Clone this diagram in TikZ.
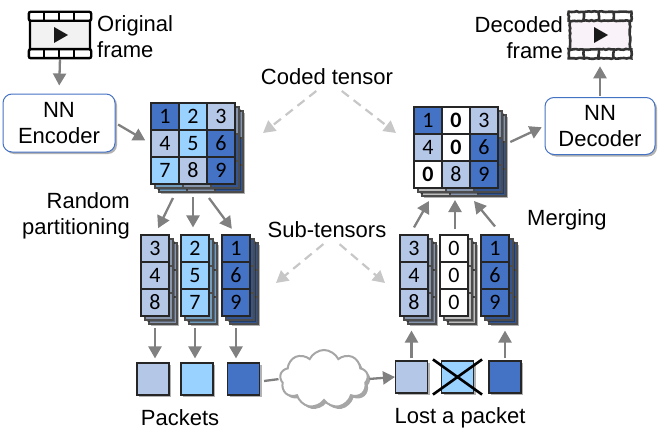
\documentclass[tikz,border=0pt]{standalone}
\usepackage{xcolor}
\usepackage{fontspec}
\setmainfont{Liberation Sans}
\newfontfamily\digitfont{Carlito}
\usetikzlibrary{positioning, shapes.symbols, arrows.meta, shadows, decorations.pathmorphing}

\definecolor{pktdark}{HTML}{4472C4}
\definecolor{pktlight}{HTML}{99D1FF}
\definecolor{pktpale}{HTML}{B4C7E7}

\tikzset{
  softshadow/.style={general shadow={shadow xshift=2pt, shadow yshift=-2pt, fill=black, opacity=0.3}},
  cellbox/.style={draw=black!85, line width=1.1pt, minimum width=28pt, minimum height=27pt, inner sep=0pt, font=\digitfont\fontsize{22}{22}\selectfont},
  label/.style={font=\fontsize{22}{26}\selectfont, inner sep=0pt},
  nnbox/.style={draw=pktdark, line width=1pt, rounded corners=9pt, fill=white, inner sep=0pt, align=center, softshadow, font=\fontsize{22}{26}\selectfont},
  pktbox/.style={draw=black!85, line width=1.1pt, minimum size=32pt, inner sep=0pt, softshadow},
  flow/.style={draw=black!50, line width=2.3pt, -{Triangle[width=13pt,length=12pt]}},
  hint/.style={draw=black!22, line width=2.2pt, dash pattern=on 9pt off 6pt, -{Triangle[width=13pt,length=12pt]}},
  filmclean/.style={draw=black, line width=2.4pt, rounded corners=2pt},
  filmrough/.style={draw=black!80, line width=2.6pt, decorate, decoration={random steps, segment length=2.5pt, amplitude=0.5pt}},
}

% one column of cells with two layers behind it
\newcommand{\tensorcol}[4]{
  \foreach \off in {8,4}
    \foreach \cellc/\cellt [count=\k] in {#4}
      \node[cellbox, draw=black!70, fill=\cellc!75!black, softshadow] at (#2+\off, #3+\k*27-27+\off) {};
  \foreach \cellc/\cellt [count=\k] in {#4}
    \node[cellbox, fill=\cellc] (#1\k) at (#2, #3+\k*27-27) {\cellt};
}

% film strip icon
\newcommand{\filmicon}[5]{
  \node[#4, fill=#5, minimum width=60pt, minimum height=44pt, inner sep=0pt] (#1) at (#2,#3) {};
  \draw[#4, fill=white] (#1.north west) rectangle ([yshift=-9pt]#1.north east);
  \draw[#4, fill=white] (#1.south west) rectangle ([yshift=9pt]#1.south east);
  \foreach \k in {15,30,45} {
    \draw[#4] ([xshift=\k pt]#1.north west) -- ([xshift=\k pt, yshift=-9pt]#1.north west);
    \draw[#4] ([xshift=\k pt]#1.south west) -- ([xshift=\k pt, yshift=9pt]#1.south west);
  }
  \fill[black!90] ([xshift=-6pt, yshift=8pt]#1.center) -- ([xshift=8pt]#1.center) -- ([xshift=-6pt, yshift=-8pt]#1.center) -- cycle;
}

\begin{document}
\begin{tikzpicture}[x=1pt, y=-1pt]
    \useasboundingbox (0,0) rectangle (664,444);

    % frames and networks
    \filmicon{orig}{60}{35}{filmclean}{black!5}
    \filmicon{deco}{600}{35}{filmrough}{violet!5}
    \node[label, align=left, anchor=west] (origtxt) at (97,37) {Original\\frame};
    \node[label, align=right, anchor=east] (decotxt) at (563,37.5) {Decoded\\frame};
    \node[nnbox, minimum width=112pt, minimum height=58pt] (enc) at (59,123) {NN\\Encoder};
    \node[nnbox, minimum width=110pt, minimum height=57pt] (dec) at (600,126) {NN\\Decoder};

    % coded tensor, sender side
    \tensorcol{ga}{165}{116.5}{pktdark/1, pktpale/4, pktlight/7}
    \tensorcol{gb}{193}{116.5}{pktlight/2, pktlight/5, pktpale/8}
    \tensorcol{gc}{221}{116.5}{pktpale/3, pktdark/6, pktdark/9}

    % coded tensor, receiver side
    \tensorcol{ha}{428}{120.5}{pktdark/1, pktpale/4, white/\textbf{0}}
    \tensorcol{hb}{456}{120.5}{white/\textbf{0}, white/\textbf{0}, pktpale/8}
    \tensorcol{hc}{484}{120.5}{pktpale/3, pktdark/6, pktdark/9}

    % sub-tensors
    \tensorcol{sa}{155}{248.5}{pktpale/3, pktpale/4, pktpale/8}
    \tensorcol{sb}{195}{248.5}{pktlight/2, pktlight/5, pktlight/7}
    \tensorcol{sc}{236}{248.5}{pktdark/1, pktdark/6, pktdark/9}
    \tensorcol{ra}{414}{248.5}{pktpale/3, pktpale/4, pktpale/8}
    \tensorcol{rb}{454}{248.5}{white/0, white/0, white/0}
    \tensorcol{rc}{495}{248.5}{pktdark/1, pktdark/6, pktdark/9}

    % packets and network
    \node[pktbox, fill=pktpale] (pa) at (153,379) {};
    \node[pktbox, fill=pktlight] (pb) at (197,379) {};
    \node[pktbox, fill=pktdark] (pc) at (243.5,379) {};
    \node[pktbox, fill=pktpale] (qa) at (411.5,377) {};
    \node[pktbox, fill=pktlight] (qb) at (457.5,377) {};
    \node[pktbox, fill=pktdark] (qc) at (505,377) {};
    \node[cloud, cloud puffs=9, cloud puff arc=130, aspect=1.5, draw=black!35, line width=2pt, fill=white, minimum width=88pt, minimum height=58pt, inner sep=0pt, general shadow={shadow xshift=2.5pt, shadow yshift=-2.5pt, fill=black, opacity=0.35}] (net) at (324,379) {};
    \draw[black, line width=2.6pt] ([xshift=-8pt, yshift=1pt]qb.north west) -- ([xshift=8pt, yshift=-1pt]qb.south east);
    \draw[black, line width=2.6pt] ([xshift=8pt, yshift=1pt]qb.north east) -- ([xshift=-8pt, yshift=-1pt]qb.south west);

    % labels
    \node[label] (coded) at (327,77) {Coded tensor};
    \node[label] (subs) at (327,230) {Sub-tensors};
    \node[label, align=right, anchor=east] (part) at (130,216) {Random\\partitioning};
    \node[label, anchor=west] (merge) at (527,220) {Merging};
    \node[label] (pkts) at (180,418) {Packets};
    \node[label] (lost) at (460,418) {Lost a packet};

    % free ends of the arrows
    \coordinate (splitl) at (173,198);
    \coordinate (splitm) at (193,197);
    \coordinate (splitr) at (209,198);
    \coordinate (joinl) at (429,201);
    \coordinate (joinm) at (455,200);
    \coordinate (joinr) at (474,201);
    \coordinate (hintgl) at (263,133);
    \coordinate (hintgr) at (396,133);
    \coordinate (hintsl) at (276,283);
    \coordinate (hintsr) at (385,283);

    \draw[flow, shorten <=1pt, shorten >=8pt] (orig.south) -- (enc.north);
    \draw[flow, shorten <=3pt, shorten >=6pt] (enc.east) -- (ga2.west);
    \draw[flow, shorten <=13pt, shorten >=3pt] (hc2.east) -- (dec.west);
    \draw[flow, shorten <=1pt, shorten >=8pt] (dec.north) -- (deco.south);
    \draw[flow, shorten >=7pt] (splitl) -- (sa1.north);
    \draw[flow, shorten >=7pt] (splitm) -- (sb1.north -| splitm);
    \draw[flow, shorten >=7pt] (splitr) -- (sc1.north);
    \draw[flow] (ra1.north) ++(0,-7) -- (joinl);
    \draw[flow] (rb1.north) ++(1,-5) -- (joinm);
    \draw[flow] (rc1.north) ++(0,-8) -- (joinr);
    \draw[flow, shorten <=11pt, shorten >=4pt] (sa3.south) -- (sa3.south |- pa.north);
    \draw[flow, shorten <=11pt, shorten >=4pt] (sb3.south) -- (sb3.south |- pb.north);
    \draw[flow, shorten <=11pt, shorten >=4pt] (sc3.south) -- (sc3.south |- pc.north);
    \draw[flow, shorten <=2pt, shorten >=14pt] (qa.north) -- (qa.north |- ra3.south);
    \draw[flow, shorten <=2pt, shorten >=14pt] (qc.north) -- (qc.north |- rc3.south);
    \draw[draw=black!50, line width=2.3pt, shorten >=1pt] (pc.east) ++(4pt,-2pt) -- (net.west |- pc.east);
    \draw[flow, shorten <=1pt] (net.east) -- (qa.west);

    \draw[hint, shorten <=6pt] (coded.south) ++(-6,2) -- (hintgl);
    \draw[hint, shorten <=6pt] (coded.south) ++(10,2) -- (hintgr);
    \draw[hint, shorten <=6pt] (subs.south) ++(1,2) -- (hintsl);
    \draw[hint, shorten <=6pt] (subs.south) ++(8,2) -- (hintsr);
  \end{tikzpicture}
\end{document}
